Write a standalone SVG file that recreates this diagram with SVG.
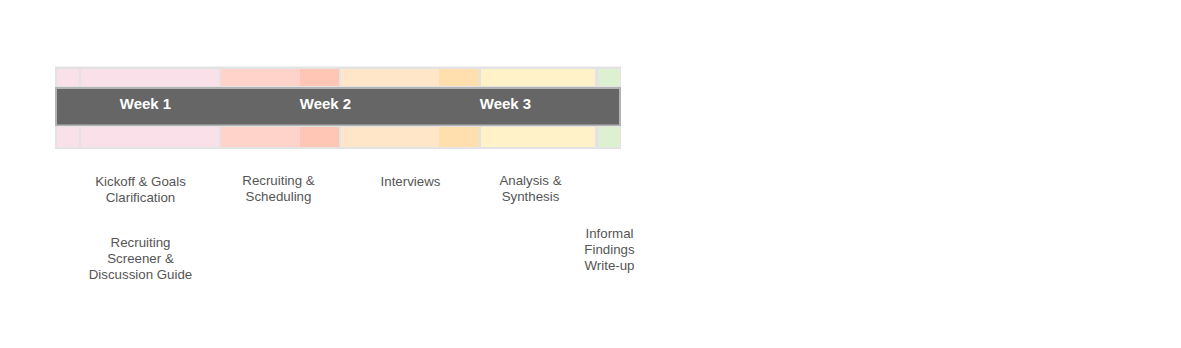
<svg xmlns="http://www.w3.org/2000/svg" width="1181" height="348" viewBox="0 0 1181 348">
<style>
.wk{font-family:"Liberation Sans",Arial,sans-serif;font-weight:bold;font-size:15px;fill:#ffffff;text-anchor:middle}
.lbl{font-family:"Liberation Sans",Arial,sans-serif;font-size:13.3px;fill:#555555;text-anchor:middle}
.pink{fill:#fae1e9}.sal{fill:#ffd3c9}.sal2{fill:#ffc5b5}.pch{fill:#ffe6c9}.pch2{fill:#ffdfae}.yel{fill:#fff1c8}.grn{fill:#ddf0cf}
</style>
<rect width="1181" height="348" fill="#ffffff"/>
<g id="timeline">
<rect x="55" y="66.5" width="566" height="82.5" fill="#e3e3e3"/>
<g id="bands-top">
<rect class="pink" x="57" y="69" width="22" height="17"/>
<rect class="pink" x="81" y="69" width="138" height="17"/>
<rect class="sal" x="221" y="69" width="79" height="17"/>
<rect class="sal2" x="300" y="69" width="39" height="17"/>
<rect class="pch" x="341" y="69" width="98" height="17"/>
<rect class="pch2" x="439" y="69" width="40" height="17"/>
<rect class="yel" x="481" y="69" width="114" height="17"/>
<rect class="grn" x="599" y="69" width="21" height="17"/>
</g>
<g id="bands-bottom">
<rect class="pink" x="57" y="127" width="22" height="20"/>
<rect class="pink" x="81" y="127" width="138" height="20"/>
<rect class="sal" x="221" y="127" width="79" height="20"/>
<rect class="sal2" x="300" y="127" width="39" height="20"/>
<rect class="pch" x="341" y="127" width="98" height="20"/>
<rect class="pch2" x="439" y="127" width="40" height="20"/>
<rect class="yel" x="481" y="127" width="114" height="20"/>
<rect class="grn" x="599" y="127" width="21" height="20"/>
</g>
<g id="weekbar">
<rect x="55" y="87" width="566" height="39" fill="#b3b3b3"/>
<rect x="57" y="89" width="562" height="35.5" fill="#666666"/>
<text class="wk" x="145.5" y="109">Week 1</text>
<text class="wk" x="325.5" y="109">Week 2</text>
<text class="wk" x="505.5" y="109">Week 3</text>
</g>
</g>
<g id="connectors"></g>
<g id="kickoff"><text class="lbl" x="140.5" y="186">Kickoff &amp; Goals</text><text class="lbl" x="140.5" y="202">Clarification</text></g>
<g id="recruiting"><text class="lbl" x="278.5" y="185">Recruiting &amp;</text><text class="lbl" x="278.5" y="201">Scheduling</text></g>
<g id="interviews"><text class="lbl" x="410.5" y="186">Interviews</text></g>
<g id="analysis"><text class="lbl" x="530.5" y="185">Analysis &amp;</text><text class="lbl" x="530.5" y="201">Synthesis</text></g>
<g id="screener"><text class="lbl" x="140.5" y="247">Recruiting</text><text class="lbl" x="140.5" y="263">Screener &amp;</text><text class="lbl" x="140.5" y="279">Discussion Guide</text></g>
<g id="findings"><text class="lbl" x="609.5" y="238">Informal</text><text class="lbl" x="609.5" y="254">Findings</text><text class="lbl" x="609.5" y="270">Write-up</text></g>
</svg>
